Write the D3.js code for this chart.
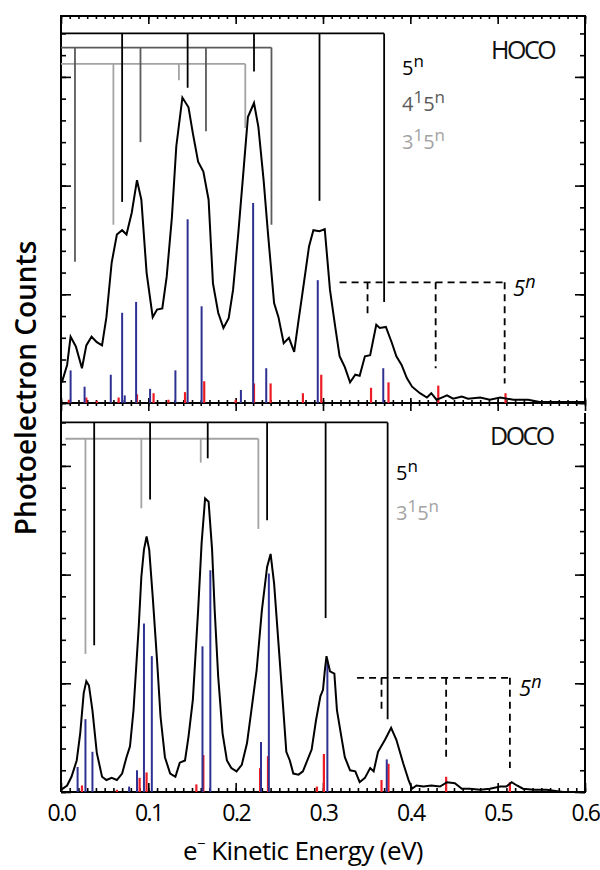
<!DOCTYPE html>
<html>
<head>
<meta charset="utf-8">
<script src="https://cdn.jsdelivr.net/npm/d3@7"></script>
<style>
  body { margin: 0; background: #fff; }
  text { font-family: "Open Sans", "Noto Sans", sans-serif; }
</style>
</head>
<body>
<div id="container"></div>
<script>
// HOCO spectrum: [eKE (eV), counts]
const hocoSpectrum = [
  [0.001,0.19],[0.007,0.35],[0.011,0.61],[0.017,0.52],[0.024,0.32],[0.029,0.53],[0.035,0.61],
  [0.041,0.56],[0.047,0.53],[0.052,0.79],[0.058,1.29],[0.064,1.55],[0.070,1.59],[0.075,1.55],
  [0.081,1.75],[0.087,2.05],[0.092,1.87],[0.098,1.20],[0.105,0.79],[0.110,0.86],[0.116,0.87],
  [0.121,1.16],[0.127,1.71],[0.132,2.36],[0.139,2.81],[0.146,2.72],[0.151,2.48],[0.157,2.22],
  [0.163,2.13],[0.169,1.87],[0.174,1.10],[0.180,0.83],[0.186,0.69],[0.192,0.78],[0.197,1.04],
  [0.203,1.56],[0.209,2.14],[0.214,2.63],[0.221,2.76],[0.226,2.54],[0.232,2.05],[0.237,1.56],
  [0.244,0.92],[0.249,0.79],[0.255,0.55],[0.261,0.60],[0.267,0.47],[0.272,0.76],[0.277,1.04],
  [0.284,1.44],[0.289,1.59],[0.296,1.58],[0.302,1.60],[0.308,1.04],[0.314,0.70],[0.319,0.43],
  [0.325,0.33],[0.331,0.19],[0.337,0.26],[0.342,0.25],[0.348,0.43],[0.354,0.44],[0.361,0.72],
  [0.365,0.69],[0.372,0.70],[0.379,0.55],[0.384,0.43],[0.390,0.35],[0.396,0.23],[0.402,0.15],
  [0.411,0.09],[0.419,0.05],[0.424,0.09],[0.430,0.03],[0.436,0.05],[0.442,0.07],[0.449,0.04],
  [0.459,0.06],[0.466,0.04],[0.480,0.05],[0.491,0.03],[0.503,0.05],[0.518,0.03],[0.535,0.03],
  [0.548,0.01],[0.568,0.01],[0.587,0.01],[0.600,0.01]
];
const hocoBlue = [
  [0.011,0.30],[0.027,0.15],[0.057,0.26],[0.070,0.83],[0.073,0.07],[0.086,0.93],[0.102,0.13],
  [0.131,0.30],[0.145,1.69],[0.161,0.89],[0.206,0.12],[0.220,1.84],[0.235,0.32],[0.294,1.13],
  [0.369,0.32]
];
const hocoRed = [
  [0.009,0.03],[0.029,0.05],[0.041,0.02],[0.066,0.05],[0.087,0.08],[0.106,0.09],[0.123,0.03],
  [0.142,0.10],[0.164,0.20],[0.200,0.03],[0.221,0.18],[0.240,0.18],[0.277,0.09],[0.298,0.26],
  [0.355,0.14],[0.375,0.19],[0.432,0.16],[0.509,0.09]
];
// progressions: [position (eV), leg end (counts)]
const hoco5n = [[0.070,1.85],[0.145,2.90],[0.221,3.05],[0.296,1.86],[0.370,0.93]];
const hoco4151n = [[0.016,1.30],[0.091,2.40],[0.166,2.50],[0.241,1.64]];
const hoco3151n = [[0.060,1.64],[0.135,2.97],[0.211,2.53]];
const hocoHot5n = [[0.351,0.78],[0.429,0.32],[0.508,0.18]];
const hocoLevels = [3.40, 3.27, 3.12, 1.11];

// DOCO spectrum
const docoSpectrum = [
  [0.000,0.02],[0.007,0.06],[0.012,0.14],[0.018,0.29],[0.022,0.54],[0.026,0.91],[0.029,1.02],
  [0.032,0.98],[0.036,0.75],[0.041,0.36],[0.047,0.14],[0.052,0.11],[0.058,0.13],[0.064,0.11],
  [0.070,0.17],[0.075,0.32],[0.079,0.42],[0.083,0.75],[0.089,1.52],[0.092,1.98],[0.095,2.23],
  [0.098,2.35],[0.101,2.23],[0.105,1.80],[0.110,1.21],[0.114,0.69],[0.119,0.32],[0.125,0.17],
  [0.131,0.14],[0.136,0.27],[0.142,0.29],[0.146,0.51],[0.151,0.85],[0.157,1.67],[0.161,2.29],
  [0.165,2.70],[0.169,2.67],[0.173,2.23],[0.176,1.67],[0.180,1.06],[0.185,0.54],[0.190,0.29],
  [0.195,0.22],[0.201,0.19],[0.207,0.25],[0.213,0.45],[0.218,0.75],[0.224,1.12],[0.230,1.67],
  [0.236,2.07],[0.240,2.19],[0.244,1.92],[0.249,1.37],[0.254,0.82],[0.258,0.37],[0.262,0.29],
  [0.266,0.17],[0.272,0.16],[0.277,0.19],[0.281,0.27],[0.287,0.39],[0.292,0.66],[0.297,0.88],
  [0.300,0.94],[0.302,1.11],[0.304,1.25],[0.308,1.11],[0.313,1.09],[0.316,0.75],[0.321,0.51],
  [0.325,0.32],[0.331,0.20],[0.337,0.19],[0.342,0.09],[0.348,0.13],[0.354,0.22],[0.358,0.19],
  [0.363,0.37],[0.371,0.48],[0.378,0.59],[0.384,0.48],[0.392,0.26],[0.398,0.11],[0.402,0.03],
  [0.407,0.06],[0.415,0.05],[0.424,0.06],[0.434,0.05],[0.442,0.09],[0.451,0.08],[0.459,0.03],
  [0.468,0.03],[0.480,0.02],[0.491,0.03],[0.503,0.05],[0.510,0.05],[0.516,0.09],[0.522,0.06],
  [0.529,0.03],[0.541,0.02],[0.556,0.02],[0.575,0.00],[0.600,0.00]
];
const docoBlue = [
  [0.019,0.23],[0.028,0.67],[0.036,0.37],[0.078,0.05],[0.087,0.20],[0.095,1.55],[0.104,1.25],
  [0.162,1.34],[0.171,2.04],[0.229,0.46],[0.238,2.01],[0.305,1.19],[0.373,0.30]
];
const docoRed = [
  [0.024,0.06],[0.064,0.02],[0.090,0.13],[0.098,0.18],[0.155,0.07],[0.163,0.34],[0.228,0.22],
  [0.237,0.33],[0.293,0.05],[0.301,0.35],[0.367,0.11],[0.375,0.26],[0.441,0.14],[0.514,0.09]
];
const doco5n = [[0.038,1.35],[0.102,2.69],[0.168,3.07],[0.236,2.50],[0.303,1.60],[0.374,0.67]];
const doco3151n = [[0.028,1.27],[0.092,2.61],[0.160,3.03],[0.226,2.42]];
const docoHot5n = [[0.367,0.75],[0.441,0.31],[0.514,0.22]];
const docoLevels = [3.40, 3.25, 1.05];

const xTickLabels = ["0.0", "0.1", "0.2", "0.3", "0.4", "0.5", "0.6"];

const width = 600, height = 870;
const left = 61, right = 585;
const topY = 16, midY = 403, bottomY = 792;
const unit = 108.7;

const svg = d3.select("#container").append("svg")
  .attr("width", width).attr("height", height);

const x = d3.scaleLinear().domain([0, 0.6]).range([left, right]);
const yTop = d3.scaleLinear().domain([0, (midY - topY) / unit]).range([midY, topY]);
const yBot = d3.scaleLinear().domain([0, (bottomY - midY) / unit]).range([bottomY, midY]);

const blue = "#2e3192", red = "#ed1c24";
const dark = "#000", mid = "#5a5a5a", light = "#a3a3a3";

function tidy(g) {
  g.select(".domain").remove();
  g.selectAll(".tick line").attr("stroke", "#000").attr("stroke-width", 1.6);
}

// axes / frame
const minorX = x.ticks(60), majorX = x.ticks(6);
const minorY = d3.range(18).map(i => i * 0.2), majorY = [0, 1, 2, 3];

svg.append("g").attr("transform", `translate(0,${topY})`)
  .call(d3.axisBottom(x).tickValues(minorX).tickSize(3).tickFormat("")).call(tidy);
svg.append("g").attr("transform", `translate(0,${topY})`)
  .call(d3.axisBottom(x).tickValues(majorX).tickSize(8).tickFormat("")).call(tidy);
svg.append("g").attr("transform", `translate(0,${midY})`)
  .call(d3.axisTop(x).tickValues(minorX).tickSize(3).tickFormat("")).call(tidy);
svg.append("g").attr("transform", `translate(0,${midY})`)
  .call(d3.axisBottom(x).tickValues(minorX).tickSize(3).tickFormat("")).call(tidy);
svg.append("g").attr("transform", `translate(0,${midY})`)
  .call(d3.axisTop(x).tickValues(majorX).tickSize(5).tickFormat("")).call(tidy);
svg.append("g").attr("transform", `translate(0,${midY})`)
  .call(d3.axisBottom(x).tickValues(majorX).tickSize(8).tickFormat("")).call(tidy);
svg.append("g").attr("transform", `translate(0,${bottomY})`)
  .call(d3.axisTop(x).tickValues(minorX).tickSize(4).tickFormat("")).call(tidy);
svg.append("g").attr("transform", `translate(0,${bottomY})`)
  .call(d3.axisTop(x).tickValues(majorX).tickSize(9).tickFormat("")).call(tidy);

const xLab = svg.append("g").attr("transform", `translate(0,${bottomY})`)
  .call(d3.axisBottom(x).tickValues(majorX).tickSize(0).tickPadding(13)
    .tickFormat((d, i) => xTickLabels[i]));
xLab.select(".domain").remove();
xLab.selectAll("text").attr("font-size", 23).attr("fill", "#000")
  .attr("letter-spacing", -1.5).attr("font-family", "'Open Sans', sans-serif");

[[yTop, d3.axisRight, left], [yTop, d3.axisLeft, right],
 [yBot, d3.axisRight, left], [yBot, d3.axisLeft, right]].forEach(([y, ax, px]) => {
  svg.append("g").attr("transform", `translate(${px},0)`)
    .call(ax(y).tickValues(minorY).tickSize(5).tickFormat("")).call(tidy);
  svg.append("g").attr("transform", `translate(${px},0)`)
    .call(ax(y).tickValues(majorY).tickSize(10).tickFormat("")).call(tidy);
});

const frame = svg.append("g").attr("stroke", "#000").attr("stroke-width", 2).attr("fill", "none");
frame.append("path").attr("d", `M${left},${bottomY}V${topY}H${right}V${midY}`);
frame.append("path").attr("d", `M${left},${midY}H${right}`);
frame.append("path").attr("d", `M${left},${bottomY}H${right}V${midY + 10}`);

// panels
function sticks(g, y, data, color, w) {
  g.append("g").selectAll("line").data(data).join("line")
    .attr("x1", d => x(d[0])).attr("x2", d => x(d[0]))
    .attr("y1", y(0)).attr("y2", d => y(d[1]))
    .attr("stroke", color).attr("stroke-width", w);
}

function comb(g, y, legs, level, startE, color, dashed) {
  const c = g.append("g").attr("stroke", color).attr("stroke-width", 1.8).attr("fill", "none");
  if (dashed) c.attr("stroke-dasharray", "7,5");
  const lastE = legs[legs.length - 1][0];
  c.append("line").attr("x1", x(startE)).attr("x2", x(lastE))
    .attr("y1", y(level)).attr("y2", y(level));
  c.selectAll(".leg").data(legs).join("line").attr("class", "leg")
    .attr("x1", d => x(d[0])).attr("x2", d => x(d[0]))
    .attr("y1", y(level)).attr("y2", d => y(d[1]));
}

function supLabel(g, px, py, parts, color, size, supSize, italic) {
  const t = g.append("text").attr("x", px).attr("y", py).attr("fill", color)
    .attr("font-size", size);
  if (italic) t.attr("font-style", "italic");
  let raised = false;
  parts.forEach(([s, sup]) => {
    const sp = t.append("tspan").text(s).attr("font-size", sup ? supSize : size);
    if (sup && !raised) sp.attr("dy", -8);
    if (!sup && raised) sp.attr("dy", 8);
    raised = sup;
  });
}

const line = y => d3.line().x(d => x(d[0])).y(d => y(d[1]));

const gTop = svg.append("g");
sticks(gTop, yTop, hocoRed, red, 2.2);
sticks(gTop, yTop, hocoBlue, blue, 2);
gTop.append("path").datum(hocoSpectrum).attr("d", line(yTop))
  .attr("fill", "none").attr("stroke", "#000").attr("stroke-width", 2);
comb(gTop, yTop, hoco3151n, hocoLevels[2], 0, light, false);
comb(gTop, yTop, hoco4151n, hocoLevels[1], 0, mid, false);
comb(gTop, yTop, hoco5n, hocoLevels[0], 0, dark, false);
comb(gTop, yTop, hocoHot5n, hocoLevels[3], 0.319, dark, true);

const gBot = svg.append("g");
sticks(gBot, yBot, docoRed, red, 2.2);
sticks(gBot, yBot, docoBlue, blue, 2);
gBot.append("path").datum(docoSpectrum).attr("d", line(yBot))
  .attr("fill", "none").attr("stroke", "#000").attr("stroke-width", 2);
comb(gBot, yBot, doco3151n, docoLevels[1], 0.005, light, false);
comb(gBot, yBot, doco5n, docoLevels[0], 0, dark, false);
comb(gBot, yBot, docoHot5n, docoLevels[2], 0.339, dark, true);

// labels
const lab = svg.append("g");
lab.append("text").attr("x", 491).attr("y", 59).attr("font-size", 25)
  .attr("letter-spacing", -2.5).attr("fill", "#111").text("HOCO");
lab.append("text").attr("x", 490).attr("y", 445).attr("font-size", 25)
  .attr("letter-spacing", -2.5).attr("fill", "#111").text("DOCO");

supLabel(lab, 402, 75, [["5", false], ["n", true]], dark, 20, 17);
supLabel(lab, 402, 111, [["4", false], ["1", true], ["5", false], ["n", true]], mid, 20, 17);
supLabel(lab, 402, 149, [["3", false], ["1", true], ["5", false], ["n", true]], light, 20, 17);
supLabel(lab, 513, 296, [["5", false], ["n", true]], dark, 22, 18, true);

supLabel(lab, 396, 480, [["5", false], ["n", true]], dark, 20, 17);
supLabel(lab, 396, 520, [["3", false], ["1", true], ["5", false], ["n", true]], light, 20, 17);
supLabel(lab, 519, 696, [["5", false], ["n", true]], dark, 22, 18, true);

svg.append("text")
  .attr("transform", `translate(36,${388}) rotate(-90)`)
  .attr("text-anchor", "middle").attr("font-size", 28).attr("font-weight", 600)
  .attr("fill", "#000").text("Photoelectron Counts");

const xt = svg.append("text").attr("x", 303).attr("y", 860).attr("text-anchor", "middle")
  .attr("font-size", 26).attr("font-weight", 500).attr("letter-spacing", -0.6).attr("fill", "#000");
xt.append("tspan").text("e");
xt.append("tspan").text("\u2212").attr("font-size", 15).attr("dy", -11);
xt.append("tspan").text(" Kinetic Energy (eV)").attr("dy", 11);
</script>
</body>
</html>
